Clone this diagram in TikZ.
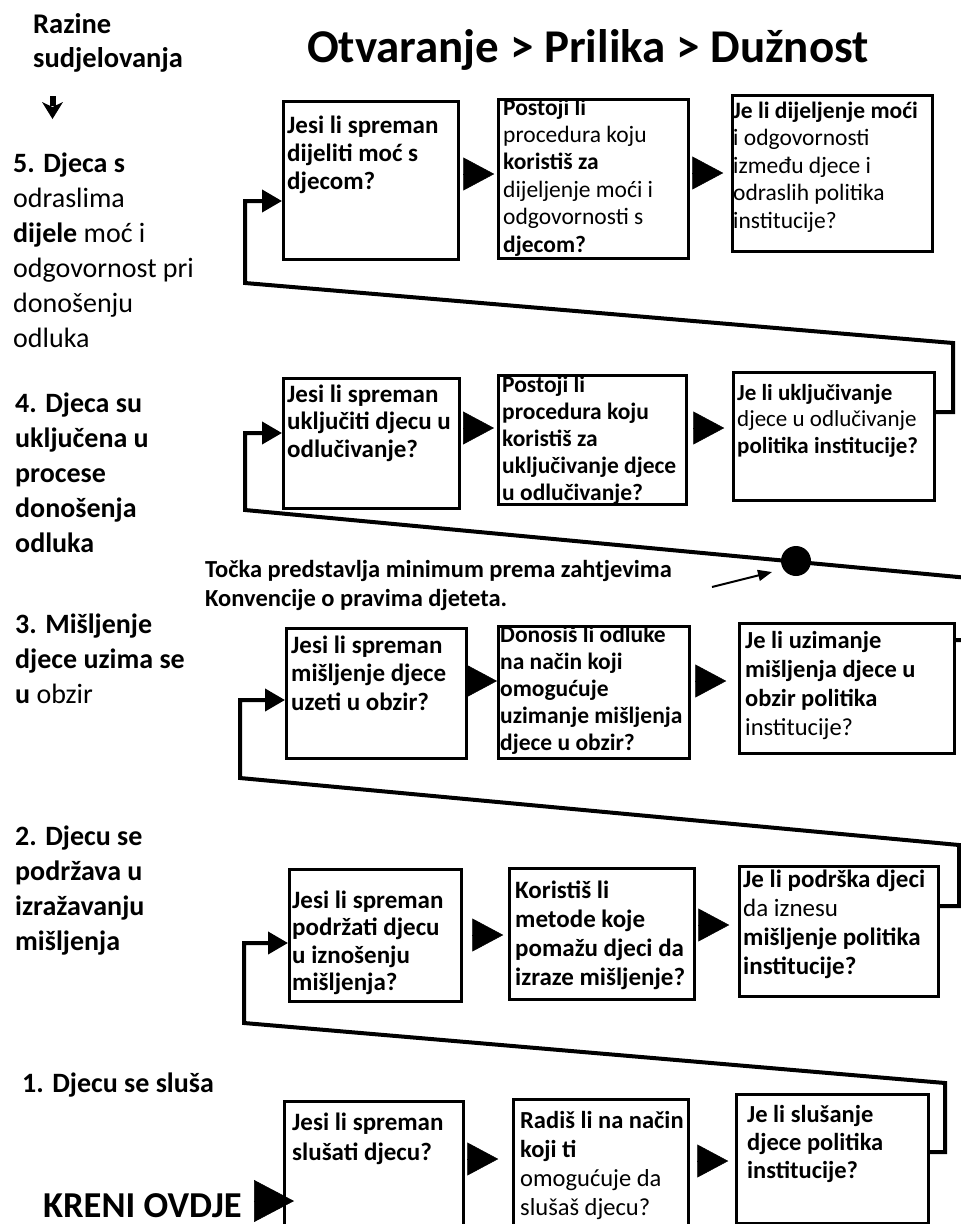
\documentclass[tikz,border=0pt]{standalone}
\usepackage{fontspec}
\setmainfont{Carlito}
\usetikzlibrary{arrows.meta}
\newcommand\mylines[1]{\begin{tabular}[t]{@{}l@{}}#1\end{tabular}}
\newcommand\setfs[2]{\fontsize{#1}{#2}\selectfont\bfseries}
\begin{document}
\begin{tikzpicture}[x=1pt,y=-1pt,
  box/.style={draw=black, line width=2.5pt, inner sep=0pt, anchor=north west},
  qtext/.style={anchor=base west, inner sep=0pt, text=black},
  lbl/.style={anchor=base west, inner sep=0pt, text=black, font=\setfs{28}{35}},
  flow/.style={draw=black, line width=0.5pt, -{Triangle[length=31pt,width=33pt]}},
  loopline/.style={draw=black, line width=4pt, line join=miter, -{Triangle[length=20pt,width=22pt]}},
]
\useasboundingbox (0,0) rectangle (961,1224);
\clip (0,0) rectangle (961,1224);
\fill[white] (0,0) rectangle (961,1224);

% ---------- headings ----------
\node[anchor=base, inner sep=0pt, font=\setfs{47}{50}] (title) at (588,62) {Otvaranje > Prilika > Dužnost};
\node[lbl, font=\setfs{28.5}{34}] (razine) at (33,33) {\mylines{Razine\\sudjelovanja}};
% small down-arrow symbol
\fill[black] (49.5,96) rectangle (55.5,106);
\fill[black] (42,102) -- (52.5,107) -- (63,102) -- (52.5,119) -- cycle;

% ---------- level labels ----------
\node[lbl] (lbl5) at (13,172) {\mylines{5. Djeca s\\\mdseries odraslima\\dijele \mdseries moć i\\\mdseries odgovornost pri\\\mdseries donošenju\\\mdseries odluka}};
\node[lbl] (lbl4) at (15,412) {\mylines{4. Djeca su\\uključena u\\procese\\donošenja\\odluka}};
\node[lbl] (lbl3) at (15,633) {\mylines{3. Mišljenje\\djece uzima se\\u \mdseries obzir}};
\node[lbl] (lbl2) at (15,845) {\mylines{2. Djecu se\\podržava u\\izražavanju\\mišljenja}};
\node[lbl] (lbl1) at (22,1092) {1. Djecu se sluša};
\node[lbl, font=\setfs{36.5}{40}] (kreni) at (43,1217) {KRENI OVDJE};

% ---------- boxes ----------
\node[box, minimum width=175pt, minimum height=158pt] (b5a) at (282,100) {};
\node[box, minimum width=190pt, minimum height=159pt] (b5b) at (497,98) {};
\node[box, minimum width=200pt, minimum height=156pt] (b5c) at (731,94) {};
\node[box, minimum width=176pt, minimum height=130pt] (b4a) at (282,377) {};
\node[box, minimum width=188pt, minimum height=129pt] (b4b) at (497,374) {};
\node[box, minimum width=201pt, minimum height=128pt] (b4c) at (732,371) {};
\node[box, minimum width=180pt, minimum height=130pt] (b3a) at (285,627) {};
\node[box, minimum width=191pt, minimum height=132pt] (b3b) at (497,625) {};
\node[box, minimum width=215pt, minimum height=130pt] (b3c) at (738,622) {};
\node[box, minimum width=172pt, minimum height=132pt] (b2a) at (288,868) {};
\node[box, minimum width=185pt, minimum height=131pt] (b2b) at (508,867) {};
\node[box, minimum width=199pt, minimum height=130pt] (b2c) at (738,865) {};
\node[box, minimum width=179pt, minimum height=140pt] (b1a) at (283,1100) {};
\node[box, minimum width=175pt, minimum height=142pt] (b1b) at (512,1098) {};
\node[box, minimum width=192pt, minimum height=129pt] (b1c) at (735,1093) {};

% ---------- box texts ----------
\node[qtext, font=\setfs{25}{28}] (t5a) at (287,133) {\mylines{Jesi li spreman\\dijeliti moć s\\djecom?}};
\node[qtext, font=\setfs{23.5}{27.4}] (t5b) at (503,115) {\mylines{Postoji li\\\mdseries procedura koju\\koristiš za\\\mdseries dijeljenje moći i\\\mdseries odgovornosti s\\djecom?}};
\node[qtext, font=\setfs{23.5}{27.5}] (t5c) at (733,118) {\mylines{Je li dijeljenje moći\\\mdseries i odgovornosti\\\mdseries između djece i\\\mdseries odraslih politika\\\mdseries institucije?}};
\node[qtext, font=\setfs{25}{27.5}] (t4a) at (287,402) {\mylines{Jesi li spreman\\uključiti djecu u\\odlučivanje?}};
\node[qtext, font=\setfs{23.5}{27}] (t4b) at (502,392) {\mylines{Postoji li\\procedura koju\\koristiš za\\uključivanje djece\\u odlučivanje?}};
\node[qtext, font=\setfs{23}{26.5}] (t4c) at (737,400) {\mylines{Je li uključivanje\\\mdseries djece u odlučivanje\\politika institucije?}};
\node[qtext, font=\setfs{25}{28.5}] (t3a) at (291,653) {\mylines{Jesi li spreman\\mišljenje djece\\uzeti u obzir?}};
\node[qtext, font=\setfs{23.5}{27}] (t3b) at (500,642) {\mylines{Donosiš li odluke\\na način koji\\omogućuje\\uzimanje mišljenja\\djece u obzir?}};
\node[qtext, font=\setfs{24.5}{29}] (t3c) at (745,648) {\mylines{Je li uzimanje\\mišljenja djece u\\obzir politika\\\mdseries institucije?}};
\node[qtext, font=\setfs{25}{27.5}] (t2a) at (292,908) {\mylines{Jesi li spreman\\podržati djecu\\u iznošenju\\mišljenja?}};
\node[qtext, font=\setfs{25}{29}] (t2b) at (515,898) {\mylines{Koristiš li\\metode koje\\pomažu djeci da\\izraze mišljenje?}};
\node[qtext, font=\setfs{25}{29}] (t2c) at (743,887) {\mylines{Je li podrška djeci\\\mdseries da iznesu\\mišljenje politika\\institucije?}};
\node[qtext, font=\setfs{25}{30}] (t1a) at (292,1130) {\mylines{Jesi li spreman\\slušati djecu?}};
\node[qtext, font=\setfs{24.5}{29}] (t1b) at (520,1128) {\mylines{Radiš li na način\\koji ti\\\mdseries omogućuje da\\\mdseries slušaš djecu?}};
\node[qtext, font=\setfs{24.5}{28}] (t1c) at (747,1122) {\mylines{Je li slušanje\\djece politika\\institucije?}};

% ---------- note ----------
\node[qtext, font=\setfs{24.5}{29}] (note) at (205,577) {\mylines{Točka predstavlja minimum prema zahtjevima\\Konvencije o pravima djeteta.}};
\node[circle, fill=black, inner sep=0pt, minimum size=30pt] (dot) at (796,561) {};
\coordinate (na) at (712,587);
\coordinate (nb) at (772,572);
\draw[line width=2pt, -{Triangle[length=14pt,width=11pt]}] (na) -- (nb);

% ---------- flow arrows ----------
\draw[flow, shorten <=3.75pt, shorten >=2.75pt] (b5a.east |- 0,174) -- (b5b.west |- 0,174);
\draw[flow, shorten <=3.75pt, shorten >=7.75pt] (b5b.east |- 0,173) -- (b5c.west |- 0,173);
\draw[flow, shorten <=2.5pt, shorten >=3pt] (b4a.east |- 0,428) -- (b4b.west |- 0,428);
\draw[flow, shorten <=5.75pt, shorten >=7.75pt] (b4b.east |- 0,428) -- (b4c.west |- 0,428);
\draw[flow, shorten <=0pt, shorten >=0pt] (b3a.east |- 0,681) -- (b3b.west |- 0,681);
\draw[flow, shorten <=4.75pt, shorten >=11.75pt] (b3b.east |- 0,681) -- (b3c.west |- 0,681);
\draw[flow, shorten <=9.75pt, shorten >=4.75pt] (b2a.east |- 0,935) -- (b2b.west |- 0,935);
\draw[flow, shorten <=2.75pt, shorten >=8.75pt] (b2b.east |- 0,925) -- (b2c.west |- 0,925);
\draw[flow, shorten <=3.75pt, shorten >=13.75pt] (b1a.east |- 0,1159) -- (b1b.west |- 0,1159);
\draw[flow, shorten <=7.75pt, shorten >=6.75pt] (b1b.east |- 0,1161) -- (b1c.west |- 0,1161);
\draw[draw=black, line width=0.5pt, -{Triangle[length=40pt,width=42pt]}, shorten <=12pt, shorten >=-11pt] (kreni.east |- 0,1201) -- (b1a.west |- 0,1201);

% ---------- loops ----------
\draw[loopline] (b1c.east |- 0,1152) -- (945,1152) -- (945,1083) -- (244,1023) -- (244,943) -- (b2a.west |- 0,943);
\draw[loopline] (b2c.east |- 0,906) -- (959,906) -- (959,845) -- (240,778) -- (240,700) -- (b3a.west |- 0,700);
\draw[loopline] (b3c.east |- 0,640) -- (990,640) -- (990,580) -- (245,510) -- (245,433) -- (b4a.west |- 0,433);
\draw[loopline] (b4c.east |- 0,412) -- (953,412) -- (953,343) -- (245,283) -- (245,201) -- (b5a.west |- 0,201);
\end{tikzpicture}
\end{document}
